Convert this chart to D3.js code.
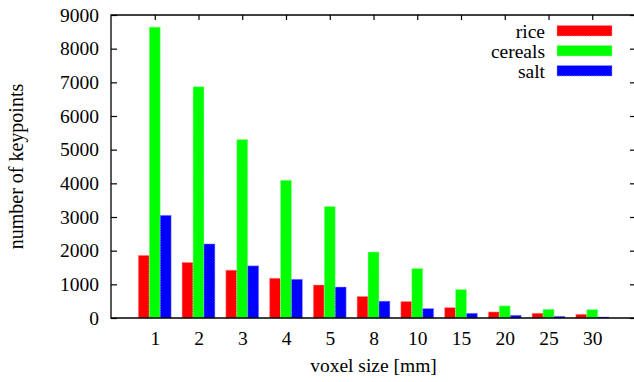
<!DOCTYPE html>
<html>
<head>
<meta charset="utf-8">
<script src="https://cdn.jsdelivr.net/npm/d3@7"></script>
<style>
  body { margin: 0; background: #fff; }
</style>
</head>
<body>
<script>
// voxel sizes along the x axis
var categories = ["1", "2", "3", "4", "5", "8", "10", "15", "20", "25", "30"];

// keypoint counts per series
var rice    = [1860, 1650, 1420, 1180, 980, 640, 490, 310, 180, 140, 110];
var cereals = [8640, 6870, 5300, 4090, 3310, 1960, 1470, 845, 360, 260, 250];
var salt    = [3050, 2200, 1550, 1150, 920, 500, 280, 140, 80, 50, 30];

var seriesNames = ["rice", "cereals", "salt"];
var yTicks = [0, 1000, 2000, 3000, 4000, 5000, 6000, 7000, 8000, 9000];

window.onload = drawChart();

function drawChart(){

    var width = 634,
        height = 382,
        serif = "'Liberation Serif', 'Times New Roman', serif";

    var colors = ["#ff0000", "#00ff00", "#0000ff"],
        borders = ["#ff9a9a", "#9aff9a", "#9a9aff"];

    var svg = d3.select("body")
        .append("svg")
        .attr("width", width)
        .attr("height", height);

    //x positions: one unit per category, with a spare unit each side
    var x = d3.scaleLinear()
        .domain([-1, categories.length])
        .range([111, 636]);

    var y = d3.scaleLinear()
        .domain([0, 9000])
        .range([318, 15]);

    var barW = 0.25;

    //left axis with labels, ticks pointing inward
    var yAxis = svg.append("g")
        .attr("transform", "translate(" + x(-1) + ",0)")
        .call(d3.axisLeft(y).tickValues(yTicks).tickSize(-6).tickPadding(12)
            .tickFormat(d3.format("d")));

    //mirrored ticks on the right
    var yAxisR = svg.append("g")
        .attr("transform", "translate(" + x(categories.length) + ",0)")
        .call(d3.axisRight(y).tickValues(yTicks).tickSize(-6).tickFormat(""));

    //bottom axis with category labels
    var xAxis = svg.append("g")
        .attr("transform", "translate(0," + y(0) + ")")
        .call(d3.axisBottom(x)
            .tickValues(d3.range(categories.length))
            .tickFormat(function(d){ return categories[d]; })
            .tickSize(-5)
            .tickPadding(13.5));

    //mirrored ticks on top
    var xAxisT = svg.append("g")
        .attr("transform", "translate(0," + y(9000) + ")")
        .call(d3.axisTop(x)
            .tickValues(d3.range(categories.length))
            .tickSize(-5)
            .tickFormat(""));

    svg.selectAll(".domain").remove();
    svg.selectAll(".tick line").attr("stroke", "#000").attr("stroke-width", 1.2);
    svg.selectAll(".tick text")
        .style("font-family", serif)
        .style("font-size", "19.5px")
        .attr("fill", "#000");

    //bars
    var allSeries = [rice, cereals, salt];
    allSeries.forEach(function(vals, s){
        svg.selectAll(".bar" + s)
            .data(vals)
            .enter()
            .append("rect")
            .attr("class", "bar" + s)
            .attr("x", function(d, i){ return x(i + (s - 1) * barW - barW / 2); })
            .attr("y", function(d){ return y(d); })
            .attr("width", x(barW) - x(0))
            .attr("height", function(d){ return y(0) - y(d); })
            .attr("fill", colors[s])
            .attr("stroke", borders[s])
            .attr("stroke-width", 0.8)
            .attr("stroke-dasharray", "1.5,1");
    });

    //frame: left, bottom, top
    svg.append("path")
        .attr("d", "M" + x(categories.length) + "," + y(9000) +
                   "H" + x(-1) + "V" + y(0) + "H" + x(categories.length))
        .attr("fill", "none")
        .attr("stroke", "#000")
        .attr("stroke-width", 1.3);

    //legend
    var legend = svg.selectAll(".legend")
        .data(seriesNames)
        .enter()
        .append("g")
        .attr("class", "legend")
        .attr("transform", function(d, i){ return "translate(0," + (31 + i * 20) + ")"; });

    legend.append("text")
        .attr("x", 545)
        .attr("dy", "0.35em")
        .attr("text-anchor", "end")
        .style("font-family", serif)
        .style("font-size", "19.5px")
        .text(function(d){ return d; });

    legend.append("rect")
        .attr("x", 557)
        .attr("y", -5.5)
        .attr("width", 55)
        .attr("height", 10.5)
        .attr("fill", function(d, i){ return colors[i]; })
        .attr("stroke", function(d, i){ return borders[i]; })
        .attr("stroke-width", 0.8)
        .attr("stroke-dasharray", "1.5,1");

    //axis titles
    svg.append("text")
        .attr("x", (x(-1) + x(categories.length)) / 2)
        .attr("y", 372)
        .attr("text-anchor", "middle")
        .style("font-family", serif)
        .style("font-size", "19.5px")
        .text("voxel size [mm]");

    svg.append("text")
        .attr("transform", "translate(23," + (y(0) + y(9000)) / 2 + ") rotate(-90)")
        .attr("text-anchor", "middle")
        .style("font-family", serif)
        .style("font-size", "20px")
        .text("number of keypoints");
}
</script>
</body>
</html>
